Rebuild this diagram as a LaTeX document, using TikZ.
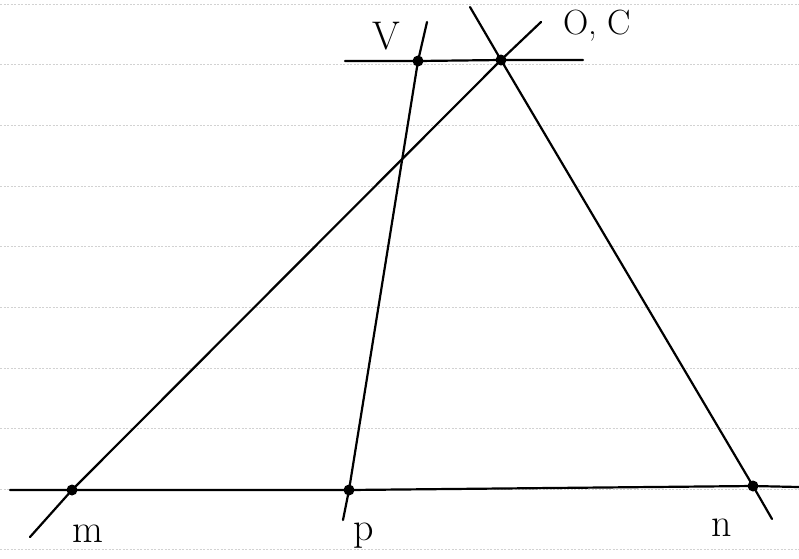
\documentclass[tikz,border=0pt]{standalone}
\usetikzlibrary{calc}
\begin{document}
\begin{tikzpicture}[x=1pt,y=-1pt,
  rule/.style={draw=gray!35,line width=0.6pt,dash pattern=on 2pt off 1.5pt},
  stroke/.style={draw=black,line width=2.2pt,line cap=round},
  dot/.style={circle,fill=black,inner sep=0pt,minimum size=11pt},
  lab/.style={font=\fontsize{40}{46}\selectfont,inner sep=0pt},
  labsmall/.style={font=\fontsize{35}{40}\selectfont,inner sep=0pt}]
\useasboundingbox[fill=white] (0,0) rectangle (799,558);
\foreach \yy in {4,64.6,125,186,246,307,368,428,489,549}
  \draw[rule] (0,\yy) -- (799,\yy);
% key points
\node[dot] (V) at (418,61) {};
\node[dot] (O) at (501,60) {};
\node[dot] (m) at (72,490) {};
\node[dot] (p) at (349,490) {};
\node[dot] (n) at (753,486) {};
% free ends
\coordinate (bl) at (10,490);
\coordinate (br) at (799,487);
\coordinate (tl) at (345,61);
\coordinate (tr) at (583,60);
\coordinate (mA) at (30,537);
\coordinate (mB) at (541,22);
\coordinate (pA) at (343,520);
\coordinate (pB) at (427,22);
\coordinate (nA) at (470,7);
\coordinate (nB) at (772,519);
% lines
\draw[stroke] (bl) -- (m.center) -- (p.center) -- (n.center) -- (br);
\draw[stroke] (tl) -- (V.center) -- (O.center) -- (tr);
\draw[stroke] (mA) -- (m.center) -- (O.center) -- (mB);
\draw[stroke] (pA) -- (p.center) -- (V.center) -- (pB);
\draw[stroke] (nA) -- (O.center) -- (n.center) -- (nB);
% labels
\node[lab] (lV) at (386,36) {V};
\node[labsmall] (lO) at (597,26) {O, C};
\node[lab] (lm) at (88,534) {m};
\node[lab] (lp) at (364,536) {p};
\node[lab] (ln) at (722,528) {n};
\end{tikzpicture}
\end{document}
